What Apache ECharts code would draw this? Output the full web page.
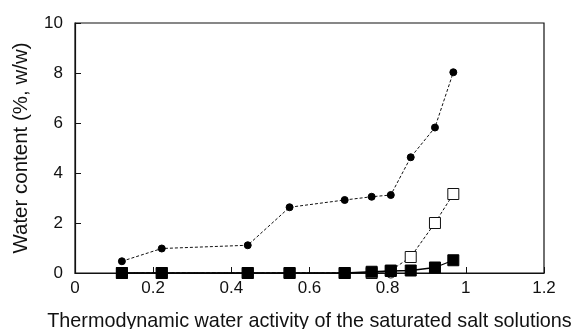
<!DOCTYPE html>
<html><head><meta charset="utf-8">
<script src="https://cdn.jsdelivr.net/npm/echarts@6/dist/echarts.min.js"></script>
<style>html,body{margin:0;padding:0;background:#fff}#c{width:577px;height:329px}</style>
</head><body><div id="c"></div>
<script>
var aw = [0.12, 0.222, 0.442, 0.549, 0.69, 0.759, 0.808, 0.859, 0.921, 0.968];
var filledCircle = [0.47, 0.98, 1.11, 2.63, 2.92, 3.05, 3.12, 4.63, 5.82, 8.03];
var openSquare = [0, 0, 0, 0, 0, 0, 0.1, 0.64, 2.0, 3.16];
var filledSquare = [0, 0, 0, 0, 0, 0.05, 0.08, 0.1, 0.22, 0.51];
var openCircle = [0, 0, 0, 0, 0, 0, 0, -0.05, -0.05, -0.03];
var xTicks = ['0', '0.2', '0.4', '0.6', '0.8', '1', '1.2'];
var yTicks = ['0', '2', '4', '6', '8', '10'];

function pairs(ys){ return aw.map(function(x,i){ return [x, ys[i]]; }); }
var chart = echarts.init(document.getElementById('c'));
var font = 'Liberation Sans, Arial, sans-serif';
var lineCol = '#111';
chart.setOption({
  animation: false,
  grid: {left: 75, top: 23, right: 33, bottom: 56, outerBoundsMode: 'none', containLabel: false,
         show: true, borderColor: lineCol, borderWidth: 1.2, backgroundColor: 'transparent'},
  xAxis: {
    type: 'value', min: 0, max: 1.2, interval: 0.2,
    name: 'Thermodynamic water activity of the saturated salt solutions',
    nameLocation: 'middle', nameGap: 39,
    nameTextStyle: {fontFamily: font, fontSize: 19.8, color: '#111'},
    axisLine: {show: true, onZero: false, lineStyle: {color: lineCol, width: 1.2}},
    axisTick: {show: true, inside: true, length: 6, lineStyle: {color: lineCol}},
    axisLabel: {fontFamily: font, fontSize: 17, color: '#111', margin: 7,
      formatter: function(v){ return xTicks[Math.round(v/0.2)]; }},
    splitLine: {show: false}
  },
  yAxis: {
    type: 'value', min: 0, max: 10, interval: 2,
    name: 'Water content (%, w/w)',
    nameLocation: 'middle', nameGap: 43,
    nameTextStyle: {fontFamily: font, fontSize: 20.5, color: '#111'},
    axisLine: {show: true, onZero: false, lineStyle: {color: lineCol, width: 1.2}},
    axisTick: {show: true, inside: true, length: 6, lineStyle: {color: lineCol}},
    axisLabel: {fontFamily: font, fontSize: 17, color: '#111', margin: 12,
      formatter: function(v){ return yTicks[Math.round(v/2)]; }},
    splitLine: {show: false}
  },
  series: [
    {type: 'line', data: pairs(openCircle), symbol: 'circle', symbolSize: 10,
     itemStyle: {color: '#fff', borderColor: lineCol, borderWidth: 1},
     lineStyle: {color: lineCol, width: 1, type: 'dashed'}, z: 1},
    {type: 'line', data: pairs(openSquare), symbol: 'rect', symbolSize: 11,
     itemStyle: {color: '#fff', borderColor: lineCol, borderWidth: 1},
     lineStyle: {color: lineCol, width: 1, type: [3, 2]}, z: 2},
    {type: 'line', data: pairs(filledSquare), symbol: 'rect', symbolSize: 11,
     itemStyle: {color: '#000', borderColor: '#000'},
     lineStyle: {color: '#000', width: 1.3}, z: 3},
    {type: 'line', data: pairs(filledCircle), symbol: 'circle', symbolSize: 7,
     itemStyle: {color: '#000', borderColor: '#000'},
     lineStyle: {color: lineCol, width: 1, type: [3, 2]}, z: 4}
  ]
});
</script></body></html>
